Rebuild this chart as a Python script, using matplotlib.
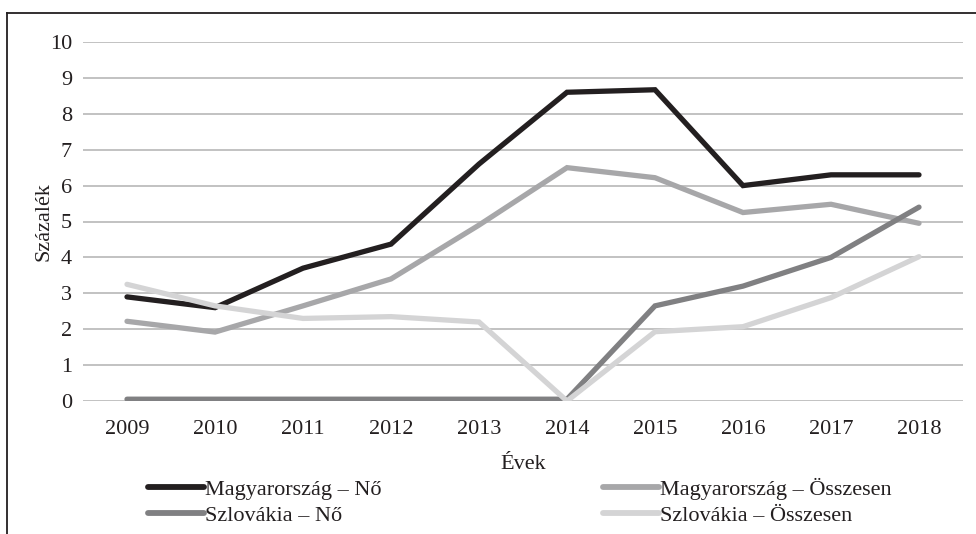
import matplotlib
matplotlib.use("Agg")
import matplotlib.pyplot as plt
from matplotlib.lines import Line2D

years = ["2009", "2010", "2011", "2012", "2013", "2014", "2015", "2016", "2017", "2018"]
hu_women = [2.9, 2.6, 3.7, 4.37, 6.6, 8.6, 8.67, 6.0, 6.3, 6.3]
hu_total = [2.22, 1.92, 2.65, 3.4, 4.9, 6.5, 6.22, 5.25, 5.48, 4.95]
sk_women = [0.05, 0.05, 0.05, 0.05, 0.05, 0.05, 2.65, 3.2, 4.0, 5.4]
sk_total = [3.25, 2.65, 2.3, 2.35, 2.2, 0.0, 1.93, 2.07, 2.88, 4.02]
labels = ["Magyarország – Nő", "Magyarország – Összesen", "Szlovákia – Nő", "Szlovákia – Összesen"]
yticks = list(range(0, 11))

plt.rcParams['font.family'] = ['Liberation Serif', 'DejaVu Serif']
FS = 16

fig = plt.figure(figsize=(9.76, 5.34), dpi=100)
ax = fig.add_axes([83/976, 1-401/534, 880/976, (401-42)/534])

colors = ["#231f20", "#a7a7a9", "#808082", "#d4d4d5"]
series = [hu_women, hu_total, sk_women, sk_total]
x = list(range(len(years)))
for s, c, lab in zip(series, colors, labels):
    ax.plot(x, s, color=c, lw=3.8, solid_capstyle='round', solid_joinstyle='miter', label=lab, zorder=3)

ax.set_xlim(-0.5, len(years) - 0.5)
ax.set_ylim(0, 10)
ax.set_yticks(yticks)
ax.set_xticks(x)
ax.set_xticklabels(years)
ax.tick_params(axis='both', length=0, labelsize=FS, colors="#231f20")
ax.tick_params(axis='y', pad=8)
ax.tick_params(axis='x', pad=14)
ax.grid(axis='y', color="#bdbdbd", lw=1.3)
ax.set_axisbelow(True)
for sp in ax.spines.values():
    sp.set_visible(False)

ax.set_xlabel("Évek", fontsize=FS, color="#231f20", labelpad=11)
ax.set_ylabel("Százalék", fontsize=FS, color="#231f20", labelpad=-3)

handles = [Line2D([0], [0], color=c, lw=4.2, solid_capstyle='round') for c in colors]
order = [0, 2, 1, 3]
fig.legend([handles[i] for i in order], [labels[i] for i in order], ncol=2,
           loc='upper left', bbox_to_anchor=(148/976, 1-478/534), frameon=False,
           fontsize=FS, handlelength=2.5, handletextpad=0.05, columnspacing=10.0,
           labelspacing=0.25, borderaxespad=0, borderpad=0, labelcolor="#231f20")

# outer frame (top and left edges)
fig.add_artist(Line2D([7/976, 1], [1-13/534, 1-13/534], transform=fig.transFigure, color="#231f20", lw=1.3))
fig.add_artist(Line2D([7/976, 7/976], [1-13/534, 0], transform=fig.transFigure, color="#231f20", lw=1.3))

fig.savefig("out.png", dpi=100)
